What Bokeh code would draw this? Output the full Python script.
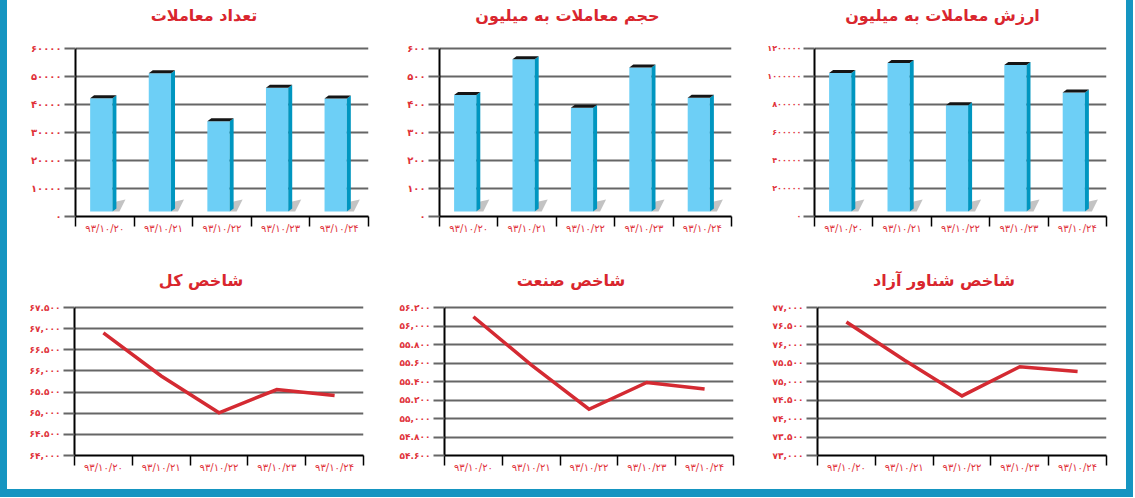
from bokeh.plotting import figure
from bokeh.layouts import row, column
from bokeh.models import FixedTicker, Label, Div
from bokeh.embed import file_html
from bokeh.resources import INLINE

# ---------------- data ----------------
categories = ["۹۳/۱۰/۲۰", "۹۳/۱۰/۲۱", "۹۳/۱۰/۲۲", "۹۳/۱۰/۲۳", "۹۳/۱۰/۲۴"]

# bar charts
count_title = "تعداد معاملات"
count_values = [42250, 51180, 34040, 45960, 42140]
count_ticks = [0, 10000, 20000, 30000, 40000, 50000, 60000]
count_labels = ["۰", "۱۰۰۰۰", "۲۰۰۰۰", "۳۰۰۰۰", "۴۰۰۰۰", "۵۰۰۰۰", "۶۰۰۰۰"]

volume_title = "حجم معاملات به میلیون"
volume_values = [434, 562, 388, 532, 424]
volume_ticks = [0, 100, 200, 300, 400, 500, 600]
volume_labels = ["۰", "۱۰۰", "۲۰۰", "۳۰۰", "۴۰۰", "۵۰۰", "۶۰۰"]

worth_title = "ارزش معاملات به میلیون"
worth_values = [1025000, 1097000, 794000, 1083000, 885000]
worth_ticks = [0, 200000, 400000, 600000, 800000, 1000000, 1200000]
worth_labels = ["۰", "۲۰۰۰۰۰", "۴۰۰۰۰۰", "۶۰۰۰۰۰", "۸۰۰۰۰۰", "۱۰۰۰۰۰۰", "۱۲۰۰۰۰۰"]

# line charts
total_title = "شاخص کل"
total_values = [66900, 65880, 65010, 65560, 65420]
total_ticks = [64000, 64500, 65000, 65500, 66000, 66500, 67000, 67500]
total_labels = ["۶۴,۰۰۰", "۶۴.۵۰۰", "۶۵,۰۰۰", "۶۵.۵۰۰", "۶۶,۰۰۰", "۶۶.۵۰۰", "۶۷,۰۰۰", "۶۷.۵۰۰"]

industry_title = "شاخص صنعت"
industry_values = [56100, 55580, 55100, 55390, 55320]
industry_ticks = [54600, 54800, 55000, 55200, 55400, 55600, 55800, 56000, 56200]
industry_labels = ["۵۴.۶۰۰", "۵۴.۸۰۰", "۵۵,۰۰۰", "۵۵.۲۰۰", "۵۵.۴۰۰", "۵۵.۶۰۰", "۵۵.۸۰۰", "۵۶,۰۰۰", "۵۶.۲۰۰"]

float_title = "شاخص شناور آزاد"
float_values = [76610, 75580, 74610, 75400, 75270]
float_ticks = [73000, 73500, 74000, 74500, 75000, 75500, 76000, 76500, 77000]
float_labels = ["۷۳,۰۰۰", "۷۳.۵۰۰", "۷۴,۰۰۰", "۷۴.۵۰۰", "۷۵,۰۰۰", "۷۵.۵۰۰", "۷۶,۰۰۰", "۷۶.۵۰۰", "۷۷,۰۰۰"]

# ---------------- style ----------------
RED = "#d9262e"
LABEL_RED = "#e0323a"
GRID = "#666666"
FRONT = "#6dcff6"
SIDE = "#0096c0"
CAP = "#151515"
BLUE = "#1595c1"
FONT = "DejaVu Sans"


def base_fig(width, height, bl, br, top_px, data_px, bb, ticks, labels, title,
             title_y_px, ylab_size, ylab_standoff=3):
    """top_px: blank space above the top gridline (inside the frame, holds the title);
    data_px: pixel height of the tick range."""
    y0, y1 = ticks[0], ticks[-1]
    ppu_y = data_px / (y1 - y0)
    y_top = y1 + top_px / ppu_y
    p = figure(width=width, height=height, x_range=(0, 5), y_range=(y0, y_top),
               output_backend="svg", toolbar_location=None,
               min_border_left=bl, min_border_right=br,
               min_border_top=0, min_border_bottom=bb)
    p.outline_line_color = None
    p.background_fill_color = "white"
    p.border_fill_color = "white"
    p.xgrid.visible = False

    # y axis
    p.yaxis.ticker = FixedTicker(ticks=ticks, minor_ticks=[])
    p.yaxis.bounds = (y0, y1)
    p.yaxis.major_label_overrides = {t: l for t, l in zip(ticks, labels)}
    p.yaxis.axis_line_color = "black"
    p.yaxis.axis_line_width = 2
    p.yaxis.major_tick_out = 11
    p.yaxis.major_tick_in = 0
    p.yaxis.major_tick_line_color = GRID
    p.yaxis.major_tick_line_width = 2
    p.yaxis.major_label_standoff = ylab_standoff
    p.yaxis.major_label_text_color = LABEL_RED
    p.yaxis.major_label_text_font = FONT
    p.yaxis.major_label_text_font_size = ylab_size
    p.yaxis.major_label_text_font_style = "bold"
    p.ygrid.grid_line_color = GRID
    p.ygrid.grid_line_width = 2

    # x axis: labels at centres, separators at boundaries
    centres = [i + 0.5 for i in range(len(categories))]
    p.xaxis.ticker = FixedTicker(ticks=centres, minor_ticks=list(range(len(categories) + 1)))
    p.xaxis.major_label_overrides = {c: l for c, l in zip(centres, categories)}
    p.xaxis.axis_line_color = "black"
    p.xaxis.axis_line_width = 2
    p.xaxis.major_tick_line_color = None
    p.xaxis.major_tick_out = 0
    p.xaxis.major_tick_in = 0
    p.xaxis.minor_tick_out = 10
    p.xaxis.minor_tick_in = 0
    p.xaxis.minor_tick_line_color = "black"
    p.xaxis.minor_tick_line_width = 1.5
    p.xaxis.major_label_standoff = -4
    p.xaxis.major_label_text_color = LABEL_RED
    p.xaxis.major_label_text_font = FONT
    p.xaxis.major_label_text_font_size = "10px"

    # title inside the (extended) frame, slightly left of centre
    frame_w = width - bl - br
    tx = 2.5 - 18.0 / frame_w * 5
    ty = y_top - title_y_px / ppu_y
    p.add_layout(Label(x=tx, y=ty, text=title, text_align="center", text_baseline="middle",
                       text_color=RED, text_font=FONT, text_font_size="16px",
                       text_font_style="bold"))
    return p, frame_w, ppu_y


def bar_fig(width, bl, br, vals, ticks, labels, title, ylab_size="10px", ylab_standoff=3):
    p, fw, ppu_y = base_fig(width, 246, bl, br, 48, 168, 30, ticks, labels, title, 15,
                            ylab_size, ylab_standoff)
    ppu_x = fw / 5.0
    base = 5 / ppu_y
    dy = 3 / ppu_y
    dx = 4 / ppu_x
    fl, fr = -0.25, 0.13
    for i, v in enumerate(vals):
        c = i + 0.5
        L, R = c + fl, c + fr
        # floor shadow
        p.patch([R, R + dx + 3 / ppu_x, R + dx + 9 / ppu_x, R + dx],
                [base, base, base + 12 / ppu_y, base + 10 / ppu_y],
                fill_color="#7a7a7a", fill_alpha=0.45, line_color=None)
        # front face
        p.quad(left=L, right=R, bottom=base, top=v, fill_color=FRONT, line_color=None)
        # side face
        p.patch([R, R, R + dx, R + dx], [base, v, v + dy, base + dy],
                fill_color=SIDE, line_color=None)
        # cap
        p.patch([L, R, R + dx, L + dx], [v, v, v + dy, v + dy],
                fill_color=CAP, line_color=None)
    return p


def line_fig(width, bl, br, vals, ticks, labels, title):
    p, fw, ppu_y = base_fig(width, 243, bl, br, 61, 148, 34, ticks, labels, title, 34, "9px")
    xs = [i + 0.5 for i in range(len(vals))]
    p.line(xs, vals, line_color="#d42a32", line_width=3.5, line_join="miter")
    return p


f1 = bar_fig(378, 68, 17, count_values, count_ticks, count_labels, count_title)
f2 = bar_fig(375, 54, 29, volume_values, volume_ticks, volume_labels, volume_title)
f3 = bar_fig(366, 54, 20, worth_values, worth_ticks, worth_labels, worth_title, "8px", 2)

f4 = line_fig(378, 67, 22, total_values, total_ticks, total_labels, total_title)
f5 = line_fig(375, 59, 27, industry_values, industry_ticks, industry_labels, industry_title)
f6 = line_fig(366, 57, 20, float_values, float_ticks, float_labels, float_title)

left_strip = Div(width=7, height=497, margin=0, styles={"background-color": BLUE})
right_strip = Div(width=7, height=497, margin=0, styles={"background-color": BLUE})
bottom_strip = Div(width=1119, height=8, margin=0, styles={"background-color": BLUE})

layout = row(left_strip,
             column(row(f1, f2, f3), row(f4, f5, f6), bottom_strip),
             right_strip)

open("out.html", "w").write(file_html(layout, INLINE))
